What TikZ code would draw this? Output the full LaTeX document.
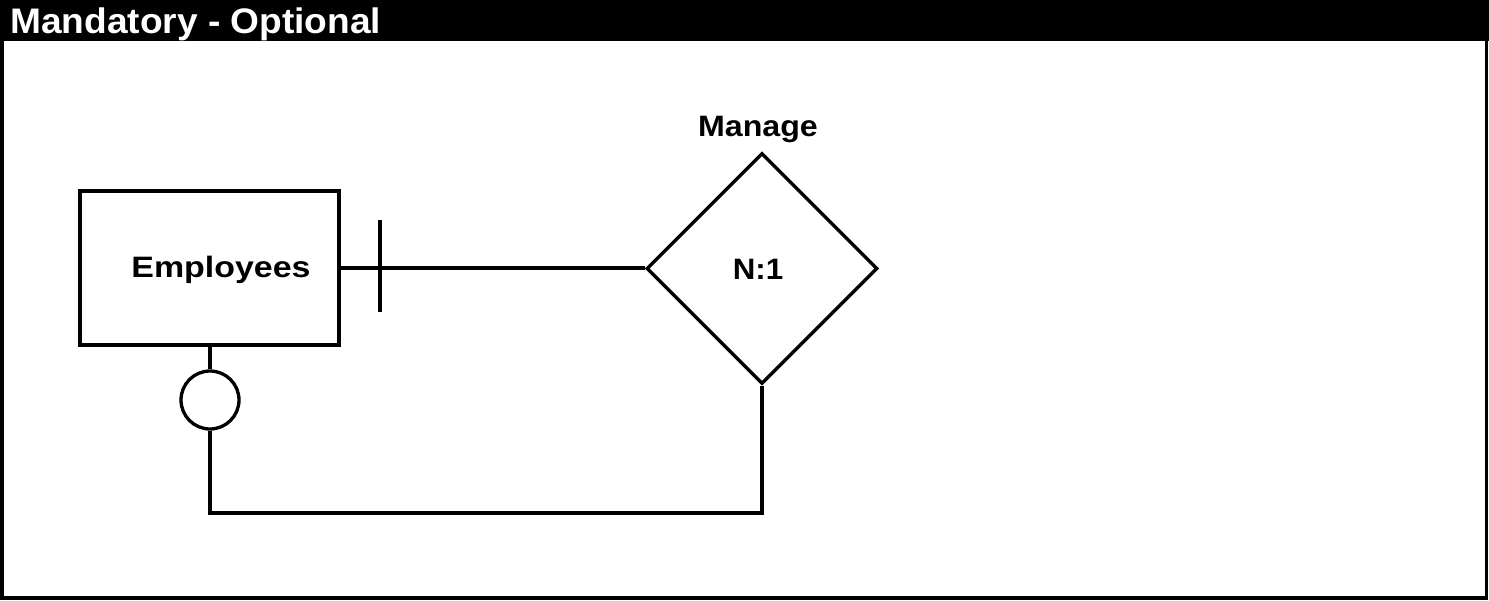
\documentclass[tikz,border=0pt]{standalone}
\usepackage{fontspec}
\setmainfont{Liberation Sans}
\usetikzlibrary{shapes.geometric}
\tikzset{
  lw/.style={line width=3.3pt},
  entitybox/.style={draw, lw, rectangle, minimum width=259pt, minimum height=154pt, inner sep=0pt},
  relbox/.style={draw, lw, diamond, minimum width=231pt, minimum height=231pt, inner sep=0pt},
  optring/.style={draw, lw, circle, minimum size=58pt, inner sep=0pt},
  lbl/.style={inner sep=0pt, anchor=base, font=\fontsize{29.5}{29.5}\selectfont\bfseries},
  titlelbl/.style={inner sep=0pt, anchor=base west, text=white, font=\fontsize{35.5}{35.5}\selectfont\bfseries},
}
\begin{document}
\begin{tikzpicture}[x=1pt,y=-1pt]
\useasboundingbox (0,0) rectangle (1489,600);
\fill[black] (0,0) rectangle (1489,41);
\draw[line width=3.5pt] (1.75,0) rectangle (1486.5,598.2);
\node[titlelbl] (title) at (10,33.5) {\scalebox{1.045}[1]{Mandatory - Optional}};
\node[entitybox] (emp) at (209.5,268) {};
\node[lbl] (emptext) at (221,277.7) {\scalebox{1.15}[1]{Employees}};
\node[relbox] (rel) at (762,268.5) {};
\node[lbl] (reltext) at (758,279.3) {\scalebox{1.06}[1]{N:1}};
\node[lbl] (relname) at (758,136.7) {\scalebox{1.09}[1]{Manage}};
\node[optring] (opt) at (210,400) {};
\coordinate (bartop) at (380,219.5);
\coordinate (barbot) at (380,312);
\coordinate (turn) at (210,513);
\draw[lw] (emp.east) -- (emp.east -| rel.west);
\draw[lw] (bartop) -- (barbot);
\draw[lw] (opt.north) -- (opt.north |- emp.south);
\draw[lw] (opt.south) -- (turn) -| (rel.south);
\end{tikzpicture}
\end{document}
